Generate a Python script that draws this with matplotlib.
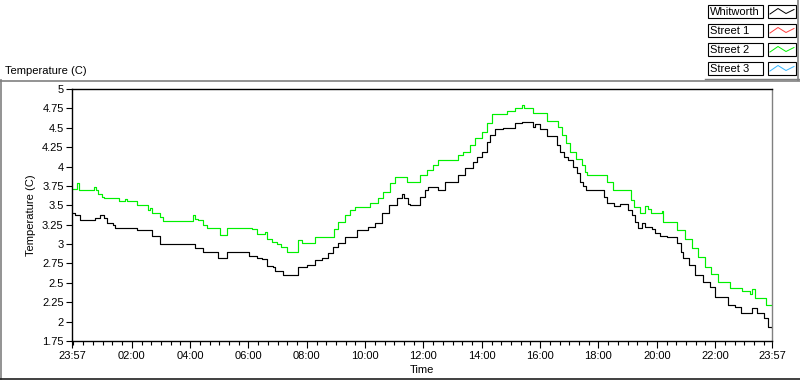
import matplotlib
matplotlib.use('Agg')
import matplotlib.pyplot as plt
import numpy as np
from matplotlib.patches import Rectangle

# time in minutes after 23:57, temperature in C
whitworth_min = [0, 6, 16, 37, 47, 58, 66, 72, 84, 88, 125, 134, 160, 165, 177, 181,
                 249, 253, 269, 298, 300, 311, 319, 360, 364, 381, 391, 401, 413, 418,
                 434, 463, 465, 483, 500, 514, 527, 537, 547, 562, 578, 586, 609, 623,
                 638, 652, 669, 679, 683, 691, 695, 716, 726, 732, 753, 767, 792, 794,
                 808, 824, 833, 843, 854, 860, 870, 886, 911, 926, 946, 948, 953, 963,
                 977, 998, 1004, 1012, 1020, 1031, 1039, 1045, 1051, 1057, 1092, 1094,
                 1101, 1115, 1127, 1144, 1152, 1158, 1164, 1172, 1179, 1193, 1199, 1210,
                 1224, 1240, 1245, 1253, 1257, 1270, 1282, 1298, 1313, 1323, 1349, 1364,
                 1376, 1399, 1409, 1424, 1432, 1440]
whitworth_temp = [3.40, 3.38, 3.31, 3.31, 3.34, 3.37, 3.33, 3.27, 3.25, 3.21, 3.21, 3.18,
                  3.18, 3.10, 3.10, 3.00, 3.00, 2.95, 2.90, 2.90, 2.82, 2.82, 2.90, 2.90,
                  2.84, 2.82, 2.81, 2.72, 2.70, 2.65, 2.60, 2.60, 2.70, 2.73, 2.79, 2.82,
                  2.89, 2.96, 3.01, 3.09, 3.09, 3.18, 3.22, 3.27, 3.40, 3.50, 3.59, 3.65,
                  3.59, 3.52, 3.50, 3.61, 3.70, 3.74, 3.70, 3.80, 3.80, 3.89, 3.98, 4.06,
                  4.12, 4.19, 4.32, 4.41, 4.48, 4.50, 4.56, 4.58, 4.58, 4.51, 4.55, 4.49,
                  4.39, 4.28, 4.19, 4.12, 4.08, 4.00, 3.92, 3.80, 3.75, 3.70, 3.70, 3.61,
                  3.53, 3.49, 3.52, 3.44, 3.37, 3.29, 3.21, 3.27, 3.22, 3.20, 3.14, 3.10,
                  3.09, 3.09, 3.01, 2.90, 2.82, 2.73, 2.60, 2.51, 2.45, 2.32, 2.21, 2.19,
                  2.11, 2.17, 2.11, 2.05, 1.93, 1.92]

street2_min = [0, 10, 14, 41, 45, 49, 53, 62, 66, 95, 97, 109, 113, 134, 154, 156, 160,
               165, 177, 181, 187, 243, 249, 253, 259, 269, 278, 294, 304, 319, 370, 380,
               391, 397, 401, 411, 422, 430, 442, 459, 465, 473, 500, 537, 539, 547, 562,
               572, 582, 613, 629, 640, 654, 664, 685, 689, 712, 716, 730, 743, 753, 794,
               804, 819, 829, 843, 854, 864, 895, 911, 925, 930, 942, 948, 977, 1000, 1008,
               1016, 1024, 1037, 1049, 1055, 1059, 1101, 1113, 1148, 1150, 1156, 1168,
               1179, 1185, 1191, 1214, 1216, 1240, 1245, 1261, 1275, 1288, 1302, 1314,
               1329, 1354, 1378, 1395, 1399, 1405, 1428, 1440]
street2_temp = [3.71, 3.79, 3.70, 3.70, 3.74, 3.70, 3.65, 3.61, 3.59, 3.59, 3.55, 3.58,
                3.55, 3.50, 3.50, 3.44, 3.47, 3.40, 3.40, 3.35, 3.30, 3.30, 3.37, 3.32,
                3.31, 3.25, 3.21, 3.21, 3.12, 3.21, 3.19, 3.13, 3.13, 3.15, 3.07, 3.03,
                3.00, 2.96, 2.90, 2.90, 3.05, 3.01, 3.09, 3.09, 3.20, 3.29, 3.37, 3.44,
                3.48, 3.53, 3.59, 3.67, 3.79, 3.87, 3.87, 3.80, 3.80, 3.89, 3.96, 4.02,
                4.08, 4.15, 4.19, 4.28, 4.37, 4.45, 4.56, 4.68, 4.72, 4.76, 4.79, 4.76,
                4.76, 4.69, 4.59, 4.51, 4.41, 4.30, 4.19, 4.10, 4.02, 3.93, 3.89, 3.80,
                3.70, 3.70, 3.57, 3.48, 3.40, 3.49, 3.45, 3.40, 3.43, 3.29, 3.29, 3.18,
                3.06, 2.95, 2.83, 2.70, 2.62, 2.51, 2.43, 2.40, 2.36, 2.42, 2.30, 2.21,
                2.21]

series_names = ['Whitworth', 'Street 1', 'Street 2', 'Street 3']
series_colors = ['#000000', '#ff3c3c', '#00f000', '#33b5ff']

x_tick_min = [0, 123, 243, 363, 483, 603, 723, 843, 963, 1083, 1203, 1323, 1440]
x_tick_labels = ['23:57', '02:00', '04:00', '06:00', '08:00', '10:00', '12:00',
                 '14:00', '16:00', '18:00', '20:00', '22:00', '23:57']
y_ticks = [1.75, 2, 2.25, 2.5, 2.75, 3, 3.25, 3.5, 3.75, 4, 4.25, 4.5, 4.75, 5]
y_tick_labels = ['1.75', '2', '2.25', '2.5', '2.75', '3', '3.25', '3.5', '3.75',
                 '4', '4.25', '4.5', '4.75', '5']

plt.rcParams['font.family'] = ['Liberation Sans', 'DejaVu Sans']
FS = 8


def draw_frame(fig):
	# overlay axes in pixel coordinates for the panel frame and legend
	ov = fig.add_axes([0, 0, 1, 1], zorder=0)
	ov.set_xlim(0, 800)
	ov.set_ylim(380, 0)
	ov.axis('off')
	ov.plot([0, 800], [80.5, 80.5], color='#808080', lw=1.2)
	ov.plot([0.5, 0.5], [80, 379], color='#808080', lw=1.2)
	ov.plot([0, 800], [378.5, 378.5], color='#202020', lw=1.2)
	ov.plot([797.5, 797.5], [0, 80], color='#808080', lw=1.2)
	ov.plot([705, 800], [78.5, 78.5], color='#808080', lw=1.0)
	ov.text(5, 71, 'Temperature (C)', fontsize=FS, ha='left', va='center')

	for i, (name, col) in enumerate(zip(series_names, series_colors)):
		top = 5 + i * 19
		ov.add_patch(Rectangle((708, top), 55, 13, fill=False, ec='black', lw=0.8))
		ov.add_patch(Rectangle((768, top), 28, 13, fill=False, ec='black', lw=0.8))
		ov.text(710, top + 7, name, fontsize=FS, ha='left', va='center')
		zx = [770, 778, 786, 794]
		zy = [top + 9, top + 3.5, top + 8.5, top + 4.5]
		ov.plot(zx, zy, color=col, lw=0.7)


def main():
	fig = plt.figure(figsize=(8, 3.8), dpi=100)
	fig.patch.set_facecolor('white')
	draw_frame(fig)

	ax = fig.add_axes([72 / 800, 1 - 341 / 380, 700 / 800, 252 / 380], zorder=2)
	ax.plot(street2_min, street2_temp, color=series_colors[2], lw=0.85, drawstyle='steps-post')
	ax.plot(whitworth_min, whitworth_temp, color=series_colors[0], lw=0.85, drawstyle='steps-post')

	ax.set_xlim(0, 1440)
	ax.set_ylim(1.75, 5)
	ax.set_xticks(x_tick_min)
	ax.set_xticklabels(x_tick_labels, fontsize=FS)
	ax.set_xticks(np.arange(3, 1440, 20), minor=True)
	ax.set_yticks(y_ticks)
	ax.set_yticklabels(y_tick_labels, fontsize=FS)
	ax.tick_params(axis='x', which='major', length=5, width=0.8, pad=2)
	ax.tick_params(axis='x', which='minor', length=3, width=0.8)
	ax.tick_params(axis='y', which='major', length=4, width=0.8, pad=2)

	for side in ['left', 'bottom', 'top']:
		ax.spines[side].set_color('black')
		ax.spines[side].set_linewidth(1.0)
	ax.spines['right'].set_color('#808080')
	ax.spines['right'].set_linewidth(1.0)

	ax.set_ylabel('Temperature (C)', fontsize=FS)
	ax.yaxis.set_label_coords(-0.052, 0.5)
	ax.set_xlabel('Time', fontsize=FS)
	ax.xaxis.set_label_coords(0.5, -0.095)

	fig.savefig('out.png', dpi=100)


if __name__ == "__main__":
	main()
